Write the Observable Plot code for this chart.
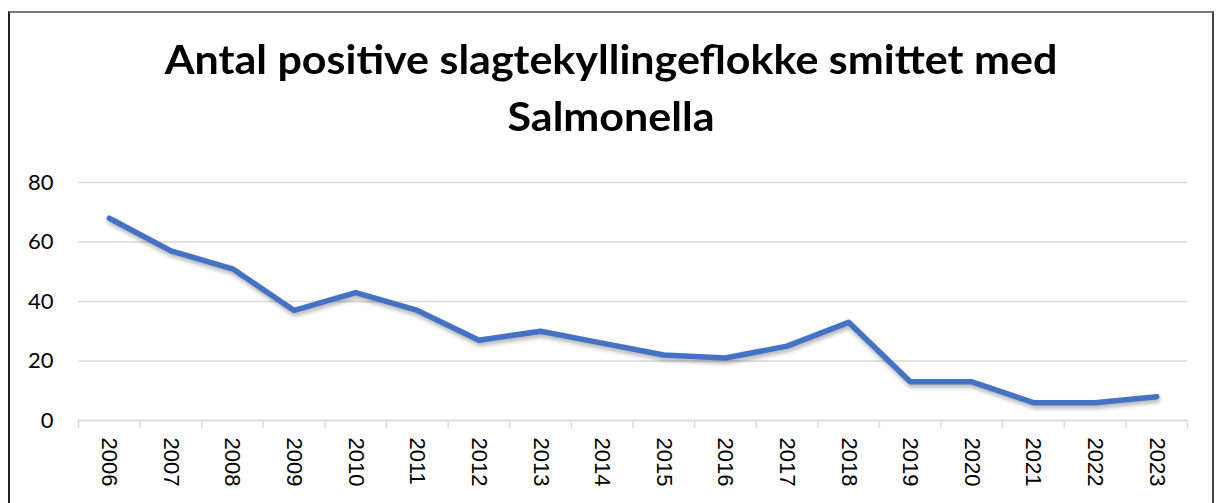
<!DOCTYPE html>
<html>
<head>
<meta charset="utf-8">
<script src="https://cdn.jsdelivr.net/npm/d3@7"></script>
<script src="https://cdn.jsdelivr.net/npm/@observablehq/plot@0.6"></script>
<style>
  html, body { margin: 0; padding: 0; background: #fff; width: 1219px; height: 503px; overflow: hidden; }
  #frame { position: absolute; left: 8px; top: 11px; width: 1202px; height: 600px;
           border-left: 2px solid #222; border-top: 2px solid #777; border-right: 2px solid #444; }
  #title { position: absolute; left: 8px; width: 1206px; top: 31px; text-align: center;
           font-family: Lato, "Open Sans", sans-serif; font-weight: 700; font-size: 40px;
           line-height: 57px; color: #000; transform: scaleX(1.075); transform-origin: 603px 0; }
  #chart { position: absolute; left: 0; top: 0; }
</style>
</head>
<body>
<div id="frame"></div>
<div id="title">Antal positive slagtekyllingeflokke smittet med<br>Salmonella</div>
<div id="chart"></div>
<script>
const years = [2006, 2007, 2008, 2009, 2010, 2011, 2012, 2013, 2014, 2015, 2016, 2017, 2018, 2019, 2020, 2021, 2022, 2023];
const values = [68, 57, 51, 37, 43, 37, 27, 30, 26, 22, 21, 25, 33, 13, 13, 6, 6, 8];
const yTicks = [0, 20, 40, 60, 80];

const data = years.map((year, i) => ({year, value: values[i]}));
const boundaries = years.map(y => y - 0.5).concat([years[years.length - 1] + 0.5]);

const chart = Plot.plot({
  width: 1219,
  height: 503,
  marginTop: 182,
  marginBottom: 83,
  marginLeft: 78,
  marginRight: 32,
  style: {background: "transparent", overflow: "visible"},
  x: {domain: [years[0] - 0.5, years[years.length - 1] + 0.5], axis: null, label: null},
  y: {domain: [0, 80], axis: null, label: null},
  marks: [
    Plot.ruleY(yTicks, {stroke: "#d9d9d9", strokeWidth: 1.5}),
    Plot.ruleY([0], {stroke: "#d6dbe4", strokeWidth: 1.5}),
    Plot.axisX(boundaries, {tickSize: 8, tickFormat: () => "", label: null, stroke: "#d6dbe4", strokeWidth: 1.5, strokeOpacity: 1}),
    Plot.text(years, {x: d => d, text: d => String(d), frameAnchor: "bottom", dy: 17, rotate: 90,
      textAnchor: "start", lineAnchor: "middle", fontSize: 22, fontFamily: "Liberation Sans, Arial, sans-serif", fill: "#000"}),
    Plot.axisY(yTicks, {tickSize: 0, tickPadding: 25, label: null, fontSize: 22, fontFamily: "Lato, sans-serif", color: "#000", textAnchor: "end"}),
    Plot.line(data, {x: "year", y: "value", stroke: "#4472C4", strokeWidth: 5.5, strokeLinejoin: "round", strokeLinecap: "round"})
  ]
});
document.getElementById("chart").appendChild(chart);
d3.select(chart).selectAll('g[aria-label="line"]').style("filter", "drop-shadow(1px 3px 2px rgba(0,0,0,0.3))");
</script>
</body>
</html>
